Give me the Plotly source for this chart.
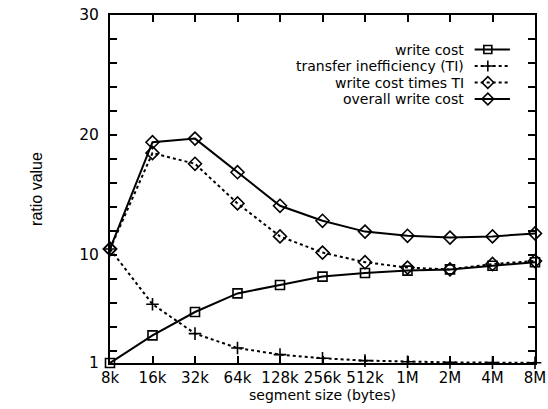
import plotly.graph_objects as go

# ---------------- data ----------------
segment_sizes = ["8k", "16k", "32k", "64k", "128k", "256k", "512k", "1M", "2M", "4M", "8M"]
write_cost = [1.0, 3.3, 5.25, 6.8, 7.5, 8.2, 8.5, 8.7, 8.8, 9.1, 9.4]
transfer_ineff = [10.5, 5.9, 3.45, 2.25, 1.7, 1.4, 1.2, 1.1, 1.05, 1.03, 1.02]
write_cost_times_ti = [10.5, 18.5, 17.6, 14.3, 11.55, 10.2, 9.4, 8.95, 8.8, 9.25, 9.5]
overall_write_cost = [10.5, 19.4, 19.7, 16.9, 14.1, 12.85, 11.95, 11.6, 11.45, 11.55, 11.8]
y_tick_vals = [1, 10, 20, 30]

series = [
    ("write cost", write_cost, "solid", "square-open", 9),
    ("transfer inefficiency (TI)", transfer_ineff, "dot", "cross-thin-open", 9),
    ("write cost times TI", write_cost_times_ti, "dot", "diamond-open", 10),
    ("overall write cost", overall_write_cost, "solid", "diamond-open", 10),
]

FONT = "DejaVu Sans, Arial, sans-serif"
FONT_TITLE = "Liberation Sans, Arial, sans-serif"
x_idx = list(range(len(segment_sizes)))

fig = go.Figure()
for name, vals, dash, sym, size in series:
    fig.add_trace(go.Scatter(
        x=x_idx, y=vals, mode="lines+markers", name=name,
        line=dict(color="black", width=2, dash=dash),
        marker=dict(symbol=sym, size=size, color="black",
                    line=dict(color="black", width=1.6)),
        cliponaxis=False, showlegend=False,
    ))

# ---------------- custom legend (text left of sample, like the original) ----------------
LEG_TEXT_X = 0.835
LEG_LINE_X0, LEG_MARK_X, LEG_LINE_X1 = 0.858, 0.889, 0.941
LEG_ROWS = [0.9008, 0.8534, 0.8060, 0.7586]
for (name, vals, dash, sym, size), ry in zip(series, LEG_ROWS):
    fig.add_trace(go.Scatter(
        x=[LEG_LINE_X0, LEG_LINE_X1], y=[ry, ry], mode="lines",
        line=dict(color="black", width=2, dash=dash),
        xaxis="x2", yaxis="y2", showlegend=False, hoverinfo="skip"))
    fig.add_trace(go.Scatter(
        x=[LEG_MARK_X], y=[ry], mode="markers",
        marker=dict(symbol=sym, size=size - 1, color="black",
                    line=dict(color="black", width=1.6)),
        xaxis="x2", yaxis="y2", showlegend=False, hoverinfo="skip"))
    fig.add_annotation(x=LEG_TEXT_X, y=ry, xref="paper", yref="paper",
                       text=name, showarrow=False, xanchor="right",
                       yanchor="middle", borderpad=0,
                       font=dict(family=FONT, size=14, color="black"))

fig.update_layout(
    width=548, height=409,
    margin=dict(l=110, r=13, t=15, b=46, autoexpand=False),
    paper_bgcolor="white", plot_bgcolor="white",
    font=dict(family=FONT, size=15, color="black"),
    showlegend=False,
    xaxis=dict(
        range=[0, len(segment_sizes) - 1],
        tickvals=x_idx, ticktext=segment_sizes, tickangle=0,
        ticks="inside", ticklen=7, tickwidth=1.5, tickcolor="black",
        showline=True, linewidth=2, linecolor="black", mirror="ticks",
        showgrid=False, zeroline=False, automargin=False,
        ticklabeloverflow="allow",
        tickfont=dict(family=FONT, size=15),
        title=dict(text="segment size (bytes)", standoff=0,
                   font=dict(family=FONT, size=14)),
    ),
    yaxis=dict(
        range=[1, 30],
        tickvals=y_tick_vals,
        ticks="inside", ticklen=7, tickwidth=1.5, tickcolor="black",
        minor=dict(tick0=0, dtick=2, ticks="inside", ticklen=7,
                   tickwidth=1.5, tickcolor="black", showgrid=False),
        showline=True, linewidth=2, linecolor="black", mirror="ticks",
        showgrid=False, zeroline=False, automargin=False,
        ticklabelstandoff=6,
        ticklabeloverflow="allow",
        tickfont=dict(family=FONT, size=15.5),
        title=dict(text="ratio value", standoff=33,
                   font=dict(family=FONT_TITLE, size=16)),
    ),
    xaxis2=dict(range=[0, 1], overlaying="x", visible=False, fixedrange=True),
    yaxis2=dict(range=[0, 1], overlaying="y", visible=False, fixedrange=True),
)

fig.write_html("out.html")
